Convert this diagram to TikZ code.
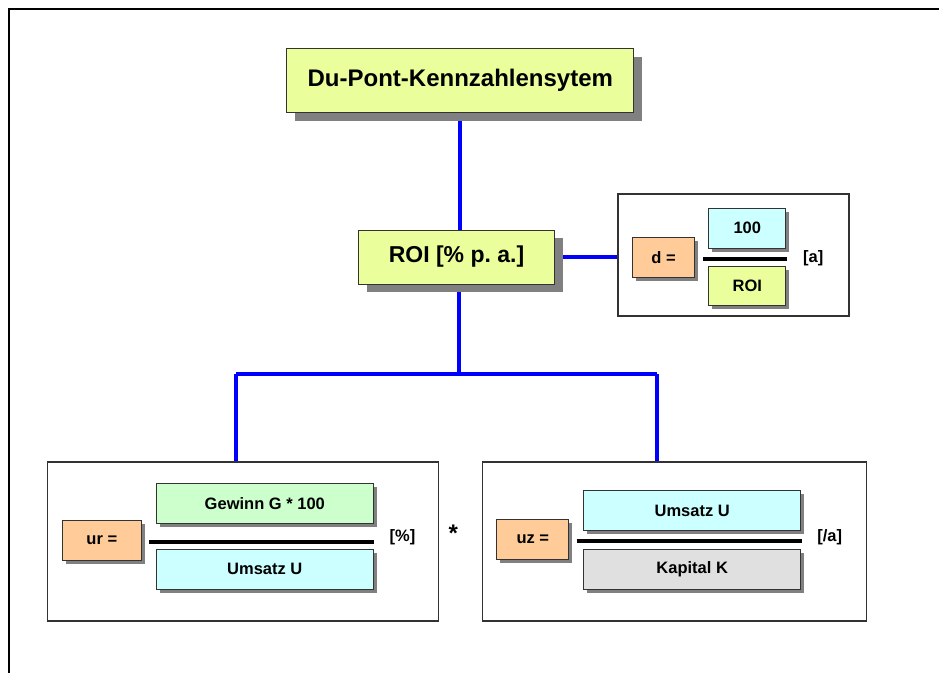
\documentclass[tikz,border=0pt]{standalone}
\usepackage{fontspec}
\setmainfont{Liberation Sans}
\usetikzlibrary{shadows,backgrounds}

\definecolor{lime}{RGB}{234,255,156}
\definecolor{peach}{RGB}{255,204,153}
\definecolor{aqua}{RGB}{204,255,255}
\definecolor{mint}{RGB}{204,255,204}
\definecolor{silver}{RGB}{224,224,224}
\definecolor{shade}{RGB}{128,128,128}
\definecolor{framegray}{RGB}{50,50,50}

\tikzset{
  box/.style={draw=black!80, line width=0.8pt, inner sep=0pt, align=center,
    font=\bfseries\fontsize{16.5}{19}\selectfont},
  bigbox/.style={box, drop shadow={shadow xshift=8pt, shadow yshift=-8pt,
    fill=shade, opacity=1}},
  smallbox/.style={box, drop shadow={shadow xshift=3.5pt, shadow yshift=-3.5pt,
    fill=shade, opacity=1}},
  panel/.style={draw=framegray, line width=1.5pt, fill=white, inner sep=0pt},
  link/.style={draw=blue, line width=4pt},
  bar/.style={draw=black, line width=4pt},
  unit/.style={font=\bfseries\fontsize{16.5}{19}\selectfont, inner sep=0pt},
  sz/.style n args={2}{minimum width=#1pt, minimum height=#2pt},
}

\begin{document}
\begin{tikzpicture}[x=1pt, y=-1pt]
\useasboundingbox (0,0) rectangle (939,673);

% page frame
\draw[line width=2pt, black] (9,673) -- (9,9) -- (939,9);

% top of the hierarchy
\node[bigbox, fill=lime, sz={347}{64},
  font=\bfseries\fontsize{24}{28}\selectfont] (title) at (460.3,80.5) {Du-Pont-Kennzahlensytem};
\node[bigbox, fill=lime, sz={196}{54},
  font=\bfseries\fontsize{23}{27}\selectfont] (roi) at (456.5,257) {ROI [\% p.\ a.]};

% panel: d = 100 / ROI
\node[panel, sz={231}{122}] (dpanel) at (733.7,255) {};
\node[smallbox, fill=peach, sz={62}{40}] (dlhs) at (663.5,257.5) {d =};
\node[smallbox, fill=aqua, sz={77}{40}] (dnum) at (747.3,228.3) {100};
\node[smallbox, fill=lime, sz={77}{39}] (dden) at (747.3,286.3) {ROI};
\coordinate (dbarl) at (703.3,258.7);
\coordinate (dbarr) at (787,258.7);
\draw[bar] (dbarl) -- (dbarr);
\node[unit] (dunit) at (813.3,258.5) {[a]};

% panel: ur = Gewinn G * 100 / Umsatz U
\node[panel, sz={391}{159}] (lpanel) at (242.8,541.7) {};
\node[smallbox, fill=peach, sz={79}{40}] (urlhs) at (101.8,540) {ur =};
\node[smallbox, fill=mint, sz={217}{40}] (urnum) at (264.8,503.8) {Gewinn G * 100};
\node[smallbox, fill=aqua, sz={217}{40}] (urden) at (264.8,569.2) {Umsatz U};
\coordinate (lbarl) at (149,541.7);
\coordinate (lbarr) at (374,541.7);
\draw[bar] (lbarl) -- (lbarr);
\node[unit] (urunit) at (402.5,537) {[\%]};

% multiplication sign between the two panels
\node[font=\bfseries\fontsize{24}{28}\selectfont, inner sep=0pt, anchor=base] (times) at (453.3,541) {*};

% panel: uz = Umsatz U / Kapital K
\node[panel, sz={384}{159}] (rpanel) at (674.3,541.5) {};
\node[smallbox, fill=peach, sz={72}{40}] (uzlhs) at (532.8,539.7) {uz =};
\node[smallbox, fill=aqua, sz={217}{40}] (uznum) at (692.2,510.8) {Umsatz U};
\node[smallbox, fill=silver, sz={217}{40}] (uzden) at (692.2,569.2) {Kapital K};
\coordinate (rbarl) at (576.7,541);
\coordinate (rbarr) at (802.3,541);
\draw[bar] (rbarl) -- (rbarr);
\node[unit] (uzunit) at (829.7,537) {[/a]};

% blue connectors
\coordinate (jc) at (459,374);
\coordinate (jl) at (236,374);
\coordinate (jr) at (656.7,374);
\begin{scope}[on background layer]
  \draw[link] (title.south) -- (title.south |- roi.north);
  \draw[link] (roi.east) -- (roi.east -| dpanel.west);
  \draw[link] (roi.south -| jc) -- (jc);
  \draw[link] (jl) -- (jr);
  \draw[link] (jl) -- (jl |- lpanel.north);
  \draw[link] (jr) -- (jr |- rpanel.north);
\end{scope}
\end{tikzpicture}
\end{document}
